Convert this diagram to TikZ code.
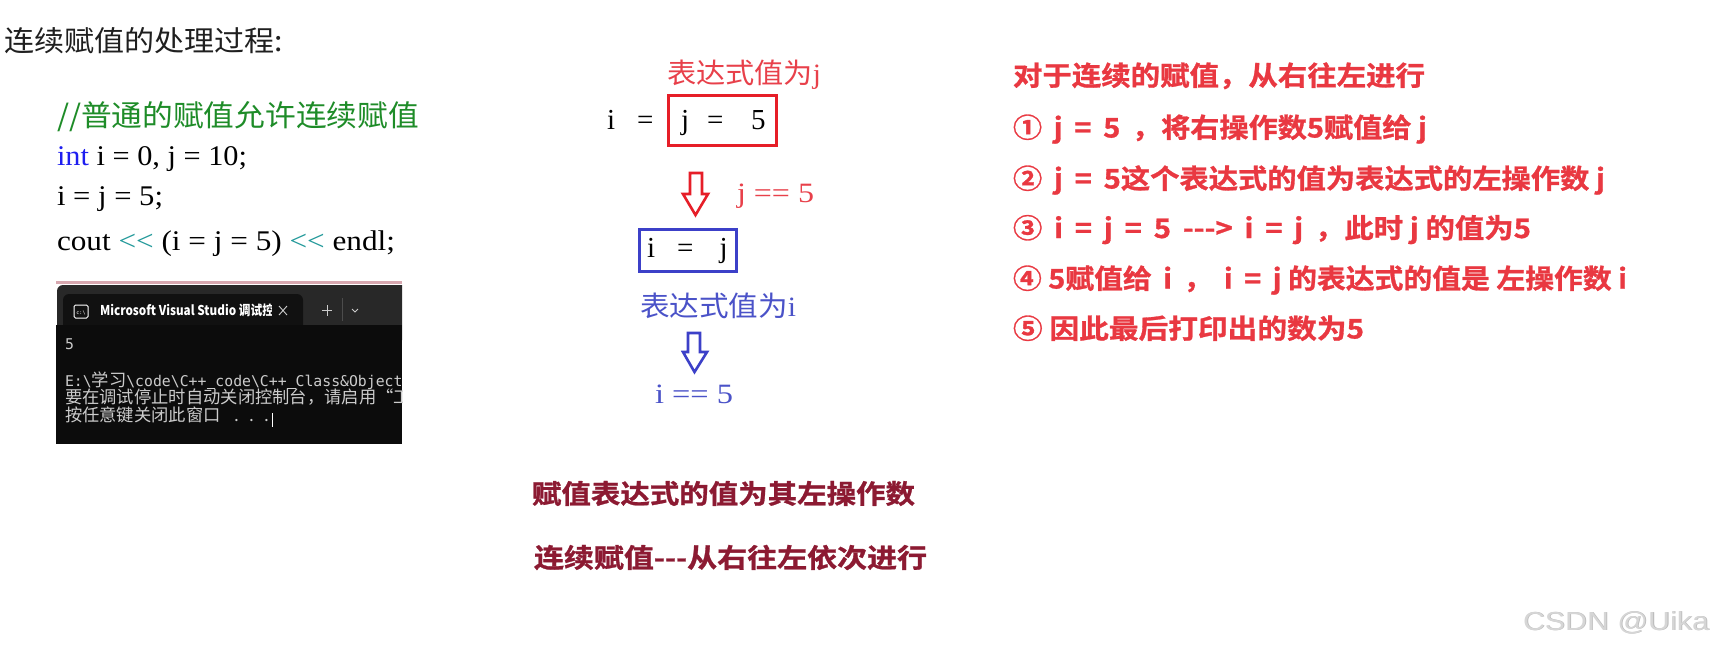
\documentclass[tikz,border=0pt]{standalone}
\usepackage{fontspec}
\usepackage{graphicx}
\setmainfont{Liberation Serif}
\newfontfamily\cjk{Noto Sans CJK SC}
\newfontfamily\cjkheavy[FakeBold=1]{Noto Sans CJK SC Bold}
\newfontfamily\mono{DejaVu Sans Mono}
\newfontfamily\wmfont{Liberation Sans}
\newcommand\fs[1]{\fontsize{#1}{#1}\selectfont}
\newcommand\fitw[2]{\resizebox{#1}{\height}{#2}}
\newcommand\tus{\makebox[0.602em][l]{\rule[-0.2em]{0.602em}{0.085em}}}
\newcommand\ws{\hspace{0.4em}}
\definecolor{cgreen}{HTML}{1E8C28}
\definecolor{cblue}{HTML}{1E1EF0}
\definecolor{cteal}{HTML}{22999A}
\definecolor{boxred}{HTML}{E61E28}
\definecolor{txtred}{HTML}{E8404A}
\definecolor{boxblue}{HTML}{3C40C8}
\definecolor{txtblue}{HTML}{4A52C8}
\definecolor{darkred}{HTML}{8C1A32}
\definecolor{brightred}{HTML}{E93841}
\definecolor{termbg}{HTML}{0C0C0C}
\definecolor{termbar}{HTML}{282828}
\definecolor{termtab}{HTML}{111111}
\definecolor{termtxt}{HTML}{CCCCCC}
\definecolor{pinkline}{HTML}{D8A8B0}
\definecolor{wmgray}{HTML}{D6D6D6}
\definecolor{wmshadow}{HTML}{B8B8B8}
\begin{document}
\begin{tikzpicture}[x=1pt,y=-1pt,
  every node/.style={inner sep=0pt,outer sep=0pt},
  txt/.style={anchor=base west},
  rline/.style={txt,text=brightred,font=\cjkheavy\fs{27}},
  termfont/.style={txt,text=termtxt,font=\mono\fs{14.8}},
  termcjk/.style={txt,text=termtxt,font=\cjk\fs{17.3}},
  eqfont/.style={txt,font=\fs{29}},
  hollowarrow/.style={line width=2.6pt,fill=white,line join=miter},
  eqbox/.style={line width=3pt,minimum width=#1},
  sumline/.style={txt,text=darkred,font=\cjkheavy\fs{26.5}}]
\useasboundingbox[fill=white] (0,0) rectangle (1713,651);

% title and code
\node[txt,font=\cjk\fs{28.5},text=black!88] (title) at (4,51.5) {\fitw{279pt}{连续赋值的处理过程:}};
\node[txt,text=cgreen,font=\cjk\fs{29.5}] (cmt) at (57,126) {\fitw{362pt}{//普通的赋值允许连续赋值}};
\node[txt,font=\fs{28.5}] (code1) at (57,165) {\fitw{190pt}{\textcolor{cblue}{int} i = 0, j = 10;}};
\node[txt,font=\fs{28.5}] (code2) at (57,205) {\fitw{106pt}{i = j = 5;}};
\node[txt,font=\fs{28.5}] (code3) at (57,250) {\fitw{338pt}{cout \textcolor{cteal}{<\kern0pt<} (i = j = 5) \textcolor{cteal}{<\kern0pt<} endl;}};

% terminal screenshot
\begin{scope}
\clip (56,281) rectangle (402,444);
\fill[pinkline] (56,281) rectangle (402,284);
\fill[termbar,rounded corners=6pt] (57,340) -- (57,285) -- (420,285) -- (420,340) -- cycle;
\fill[termtab,rounded corners=6pt] (63,340) -- (63,294) -- (303,294) -- (303,340) -- cycle;
\fill[termbg] (56,325) rectangle (402,444);
\draw[white,line width=1pt,rounded corners=1.5pt] (74,305) rectangle (88,318);
\node[font=\mono\fs{5},text=white] (icontxt) at (81,313) {c:\textbackslash};
\begin{scope}
\clip (95,295) rectangle (271,325);
\node[txt,text=white,font=\cjk\bfseries\fs{13.5}] (tabtitle) at (100,315) {\fitw{174pt}{Microsoft Visual Studio 调试控}};
\end{scope}
\draw[termtxt,line width=0.9pt] (279,306) -- (287,315) (279,315) -- (287,306);
\draw[termtxt,line width=0.9pt] (322,310.5) -- (332,310.5) (327,305) -- (327,316);
\draw[gray!60!black,line width=0.8pt] (342,298) -- (342,321);
\draw[termtxt,line width=0.8pt] (352,309) -- (355,312) -- (358,309);
\node[termfont] (t5) at (65,349) {5};
\node[termfont] (tpath) at (65,386) {E:\textbackslash{\cjk\fs{17.3}学习}\textbackslash code\textbackslash C++\tus code\textbackslash C++\tus Class\&Object};
\node[termcjk] (tmsg) at (65,403) {要在调试停止时自动关闭控制台，请启用“工};
\node[termcjk] (tpress) at (65,421) {按任意键关闭此窗口\hspace{14pt}.\hspace{10.3pt}.\hspace{10.3pt}.};
\draw[white,line width=0.8pt] (272,413) -- (272,427);
\end{scope}

% middle: i = j = 5
\node[txt,text=txtred,font=\cjk\fs{28}] (lblj) at (667,83) {\fitw{154pt}{表达式值为\textrm{j}}};
\node[eqfont] (ei) at (607,129) {i};
\node[eqfont] (eeq1) at (637,129) {=};
\node[draw=boxred,eqbox=108pt,minimum height=50pt] (redbox) at (722.5,120.5) {};
\node[eqfont] (ej) at (681,129) {j};
\node[eqfont] (eeq2) at (707,129) {=};
\node[eqfont] (e5) at (751,129) {5};
\draw[hollowarrow,draw=boxred] (690,173) -- (702,173) -- (702,194) -- (708,194) -- (695.5,215) -- (683,194) -- (690,194) -- cycle;
\node[txt,text=txtred,font=\fs{28}] (jeq) at (737,202) {\fitw{77pt}{j == 5}};

\node[draw=boxblue,eqbox=97pt,minimum height=42pt] (bluebox) at (688,250.5) {};
\node[eqfont] (bi) at (647,257) {i};
\node[eqfont] (beq) at (677,257) {=};
\node[eqfont] (bj) at (719.5,257) {j};
\node[txt,text=txtblue,font=\cjk\fs{28}] (lbli) at (640,316.5) {\fitw{156pt}{表达式值为\textrm{i}}};
\draw[hollowarrow,draw=boxblue] (688,333) -- (700,333) -- (700,352) -- (707,352) -- (694.5,372) -- (683,352) -- (688,352) -- cycle;
\node[txt,text=txtblue,font=\fs{28}] (ieq) at (655,403) {\fitw{78pt}{i == 5}};

% bottom summary
\node[sumline] (sum1) at (532,503.5) {\fitw{383pt}{赋值表达式的值为其左操作数}};
\node[sumline] (sum2) at (534,567.5) {\fitw{393pt}{连续赋值-\kern0pt-\kern0pt-从右往左依次进行}};

% right explanation
\node[rline] (r0) at (1013,85.5) {\fitw{412pt}{对于连续的赋值，从右往左进行}};
\node[rline] (r1) at (1013,137.5) {\fitw{414pt}{①\ws j\ws=\ws 5\ws ，将右操作数5赋值给 j}};
\node[rline] (r2) at (1013,188.5) {\fitw{592pt}{②\ws j\ws=\ws 5这个表达式的值为表达式的左操作数 j}};
\node[rline] (r3) at (1013,238) {\fitw{518pt}{③\ws i\ws=\ws j\ws=\ws 5\ws -\kern0pt-\kern0pt->\ws i\ws=\ws j\ws ，此时 j 的值为5}};
\node[rline] (r4) at (1013,288.5) {\fitw{614pt}{④ 5赋值给\ws i\ws ，\ws i\ws=\ws j 的表达式的值是 左操作数 i}};
\node[rline] (r5) at (1013,338.5) {\fitw{351pt}{⑤ 因此最后打印出的数为5}};

% watermark
\node[txt,text=wmshadow,font=\wmfont\fs{26}] (wmsh) at (1523.8,630.8) {\fitw{186pt}{CSDN @Uika}};
\node[txt,text=wmgray,font=\wmfont\fs{26}] (wm) at (1523,630) {\fitw{186pt}{CSDN @Uika}};
\end{tikzpicture}
\end{document}
